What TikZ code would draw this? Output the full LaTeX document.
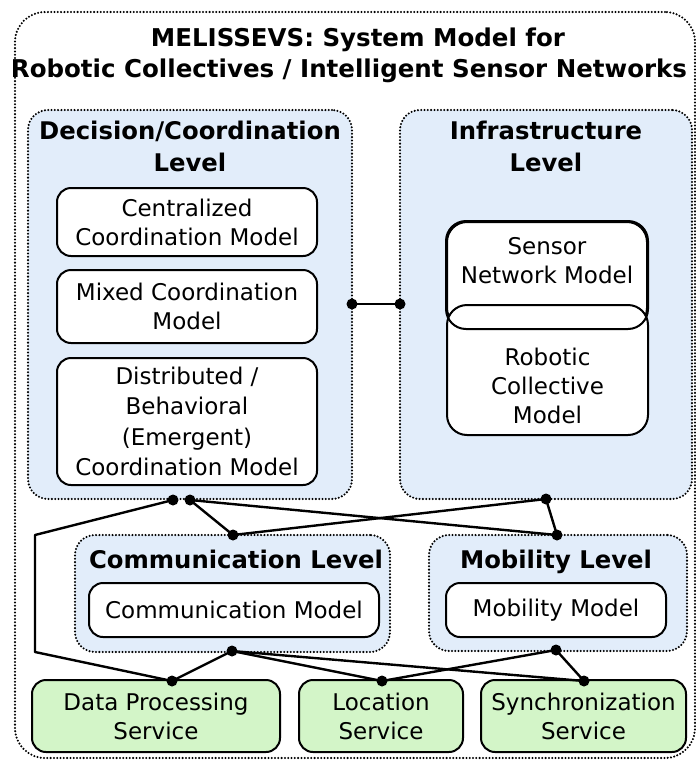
\documentclass[tikz,border=0pt]{standalone}
\usepackage{fontspec}
\setmainfont{DejaVu Sans}
\definecolor{lvlc}{HTML}{E2EDFA}
\definecolor{svcc}{HTML}{D3F5C8}
\newcommand\myreg{\fontsize{23}{29}\selectfont}
\newcommand\myhd{\fontsize{24.3}{32}\selectfont\bfseries}
\newcommand\myti{\fontsize{24.5}{31}\selectfont\bfseries}
\begin{document}
\begin{tikzpicture}[x=1pt,y=-1pt,
  dotframe/.style={draw, line width=2.3pt, dash pattern=on 0pt off 3.3pt, line cap=round, inner sep=0pt},
  outerbox/.style={dotframe, rounded corners=30pt},
  lvlbox/.style={dotframe, fill=lvlc, rounded corners=20pt},
  mbox/.style={draw, line width=2pt, rounded corners=14pt, fill=white, inner sep=0pt, align=center, font=\myreg},
  sbox/.style={mbox, fill=svcc},
  txt/.style={inner sep=0pt, align=center, font=\myreg},
  hd/.style={font=\myhd, anchor=base, inner sep=0pt},
  ti/.style={font=\myti, anchor=base, inner sep=0pt},
  jdot/.style={circle, fill=black, inner sep=0pt, minimum size=11pt},
  con/.style={line width=2.4pt, line join=round}]
\useasboundingbox (0,0) rectangle (696,761);
% outer frame and title
\node[outerbox, minimum width=680pt, minimum height=746pt] (outer) at (355,385) {};
\node[ti] (t1) at (358,46) {MELISSEVS: System Model for};
\node[ti] (t2) at (349,77) {Robotic Collectives / Intelligent Sensor Networks};
% level boxes
\node[lvlbox, minimum width=324pt, minimum height=389pt] (dec) at (190,304.5) {};
\node[lvlbox, minimum width=292pt, minimum height=389pt] (inf) at (546,304.5) {};
\node[lvlbox, minimum width=315pt, minimum height=117pt] (com) at (232.5,593.5) {};
\node[lvlbox, minimum width=258pt, minimum height=116pt] (mob) at (558,593) {};
% headings
\node[hd] (dech1) at (190,139) {Decision/Coordination};
\node[hd] (dech2) at (190,171) {Level};
\node[hd] (infh1) at (546,139) {Infrastructure};
\node[hd] (infh2) at (546,171) {Level};
\node[hd] (comh) at (236,568) {Communication Level};
\node[hd] (mobh) at (556,568) {Mobility Level};
% models
\node[mbox, minimum width=260pt, minimum height=68pt] (cen) at (187,222) {Centralized\\Coordination Model};
\node[mbox, minimum width=260pt, minimum height=73pt] (mix) at (187,306.5) {Mixed Coordination\\Model};
\node[mbox, minimum width=260pt, minimum height=127pt, font=\fontsize{23}{30.5}\selectfont] (dis) at (187,421.5) {Distributed /\\Behavioral\\(Emergent)\\Coordination Model};
\node[mbox, minimum width=200pt, minimum height=106pt, rounded corners=20pt] (sen) at (547,275) {};
\node[mbox, minimum width=201pt, minimum height=130pt, rounded corners=20pt] (rob) at (547.5,370) {};
\draw[line width=2pt, rounded corners=20pt] (sen.north west) rectangle (sen.south east);
\node[txt] (sent) at (547,261) {Sensor\\Network Model};
\node[txt] (robt) at (547.5,386) {Robotic\\Collective\\Model};
\node[mbox, minimum width=290pt, minimum height=54pt] (cm) at (234,610) {Communication Model};
\node[mbox, minimum width=220pt, minimum height=54pt] (mm) at (556,610) {Mobility Model};
% services
\node[sbox, minimum width=248pt, minimum height=72pt] (dp) at (156,716) {Data Processing\\Service};
\node[sbox, minimum width=164pt, minimum height=72pt] (loc) at (381,716) {Location\\Service};
\node[sbox, minimum width=205pt, minimum height=72pt] (syn) at (583.5,716) {Synchronization\\Service};
% junction dots
\node[jdot] (dr) at (352,304) {};
\node[jdot] (il) at (400,304) {};
\node[jdot] (dd1) at (173,500) {};
\node[jdot] (dd2) at (190,500) {};
\node[jdot] (di) at (546,499) {};
\node[jdot] (ct) at (233,535) {};
\node[jdot] (mt) at (557,535) {};
\node[jdot] (cb) at (232,651) {};
\node[jdot] (mb) at (556,650) {};
\node[jdot] (dpd) at (172,681) {};
\node[jdot] (lod) at (382,681) {};
\node[jdot] (syd) at (584,681) {};
\coordinate (k1) at (35,535);
\coordinate (k2) at (35,652);
% connectors
\draw[con] (dr.center) -- (il.center);
\draw[con] (dd1.center) -- (k1) -- (k2) -- (dpd.center);
\draw[con] (dd2.center) -- (ct.center);
\draw[con] (dd2.center) -- (mt.center);
\draw[con] (di.center) -- (ct.center);
\draw[con] (di.center) -- (mt.center);
\draw[con] (cb.center) -- (dpd.center);
\draw[con] (cb.center) -- (lod.center);
\draw[con] (cb.center) -- (syd.center);
\draw[con] (mb.center) -- (lod.center);
\draw[con] (mb.center) -- (syd.center);
\end{tikzpicture}
\end{document}
